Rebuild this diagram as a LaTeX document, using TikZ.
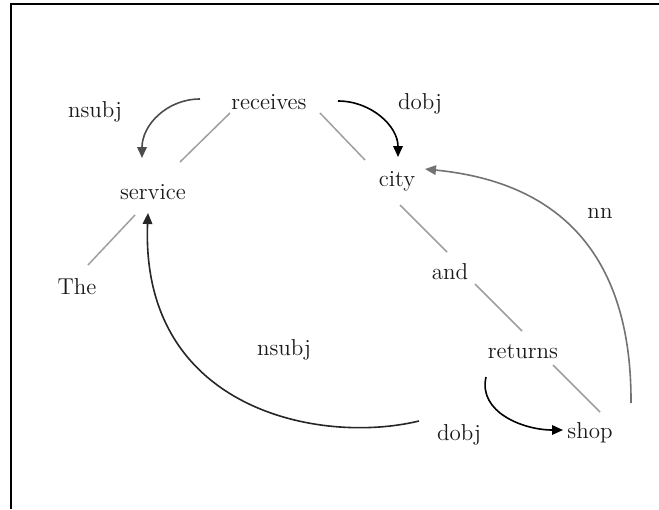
\documentclass[tikz,border=0pt]{standalone}
\usetikzlibrary{arrows.meta}

\tikzset{
  word/.style={inner sep=0pt,font=\fontsize{11.5}{13}\selectfont,text=black!90},
  tree/.style={gray!75,line width=0.75pt},
  dep/.style={-{Triangle[length=5.5pt,width=4.8pt]},line width=0.8pt}
}

\begin{document}
\begin{tikzpicture}[x=0.5pt,y=-0.5pt]
\useasboundingbox (0,0) rectangle (659,509);
\draw[line width=1.1pt] (11,509) -- (11,4) -- (659,4);
% words
\node[word] (receives) at (269,102) {receives};
\node[word] (service) at (153,192) {service};
\node[word] (the) at (77,287) {The};
\node[word] (city) at (397,181) {city};
\node[word] (and) at (450,272) {and};
\node[word] (returns) at (523,352) {returns};
\node[word] (shop) at (590,433) {shop};
% relation labels
\node[word] (lnsubja) at (95,112) {nsubj};
\node[word] (ldobja) at (420,104) {dobj};
\node[word] (lnn) at (600,213) {nn};
\node[word] (lnsubjb) at (284,350) {nsubj};
\node[word] (ldobjb) at (459,435) {dobj};
% tree lines
\draw[tree] ([shift={(-39,11)}]receives.center) -- ([shift={(27,-30)}]service.center);
\draw[tree] ([shift={(-18,23)}]service.center) -- ([shift={(11,-22)}]the.center);
\draw[tree] ([shift={(51,11)}]receives.center) -- ([shift={(-32,-21)}]city.center);
\draw[tree] ([shift={(3,24)}]city.center) -- ([shift={(-3,-20)}]and.center);
\draw[tree] ([shift={(25,12)}]and.center) -- ([shift={(-1,-21)}]returns.center);
\draw[tree] ([shift={(30,13)}]returns.center) -- ([shift={(10,-21)}]shop.center);
% dependency arcs
\draw[dep,black!70] ([shift={(-69,-3)}]receives.center) .. controls +(-33,0) and +(0,-33) .. ([shift={(-11,-34)}]service.center);
\draw[dep] ([shift={(69,-1)}]receives.center) .. controls +(33,0) and +(0,-31) .. ([shift={(1,-24)}]city.center);
\draw[dep,black!55] ([shift={(41,-30)}]shop.center) .. controls +(1,-188) and +(90,9) .. ([shift={(28,-12)}]city.center);
\draw[dep] ([shift={(-37,25)}]returns.center) .. controls +(-8,35) and +(-40,0) .. ([shift={(-27,-3)}]shop.center);
\draw[dep,black!85] ([shift={(-104,69)}]returns.center) .. controls +(-99,24) and +(-8,197) .. ([shift={(-5,21)}]service.center);
\end{tikzpicture}
\end{document}
